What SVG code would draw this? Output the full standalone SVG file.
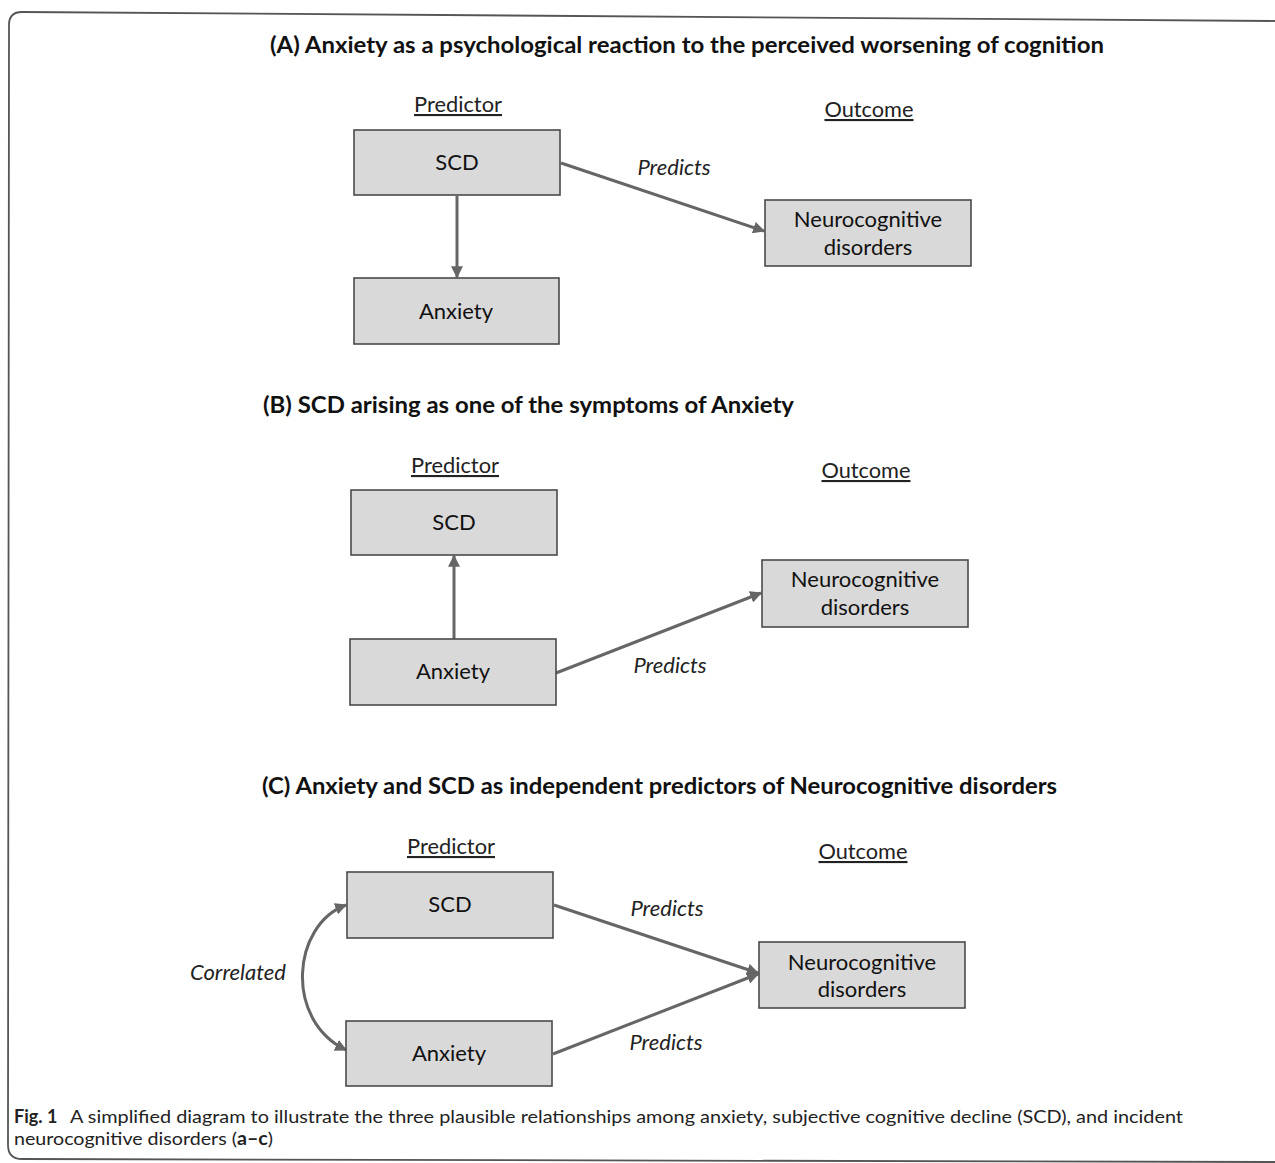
<svg xmlns="http://www.w3.org/2000/svg" width="1275" height="1163" viewBox="0 0 1275 1163">
<style>
.title{font-family:Lato,"Open Sans","Liberation Sans",sans-serif;font-weight:bold;font-size:22px;fill:#111}
.hdr{font-family:Lato,"Open Sans","Liberation Sans",sans-serif;font-size:21px;fill:#222;text-decoration:underline;text-anchor:middle}
.lbl{font-family:Lato,"Open Sans","Liberation Sans",sans-serif;font-size:22px;fill:#111;text-anchor:middle}
.edge{font-family:Lato,"Open Sans","Liberation Sans",sans-serif;font-size:22px;font-style:italic;fill:#222;text-anchor:middle}
.cap{font-family:Lato,"Open Sans","Liberation Sans",sans-serif;font-size:18px;fill:#222}
.box{fill:#d9d9d9;stroke:#4a4a4a;stroke-width:1.6}
.arr{fill:none;stroke:#666;stroke-width:3}
</style>
<defs>
<marker id="ah" viewBox="0 0 10 10" refX="9" refY="5" markerWidth="4" markerHeight="4" orient="auto-start-reverse" markerUnits="strokeWidth">
<path d="M0,0 L10,5 L0,10 z" fill="#666"/>
</marker>
</defs>
<rect width="1275" height="1163" fill="#fff"/>
<path d="M1275,21 L22,12 Q9,12 9,25 L8,1145 Q8,1159 22,1159 L1275,1162" fill="none" stroke="#555" stroke-width="1.8"/>

<g id="titles">
<text class="title" x="270" y="53" textLength="834" lengthAdjust="spacingAndGlyphs">(A) Anxiety as a psychological reaction to the perceived worsening of cognition</text>
<text class="title" x="263" y="413" textLength="531" lengthAdjust="spacingAndGlyphs">(B) SCD arising as one of the symptoms of Anxiety</text>
<text class="title" x="262" y="794" textLength="795" lengthAdjust="spacingAndGlyphs">(C) Anxiety and SCD as independent predictors of Neurocognitive disorders</text>
</g>

<g id="headers">
<text class="hdr" x="458" y="112" textLength="88" lengthAdjust="spacingAndGlyphs">Predictor</text>
<text class="hdr" x="869" y="117" textLength="89" lengthAdjust="spacingAndGlyphs">Outcome</text>
<text class="hdr" x="455" y="473" textLength="88" lengthAdjust="spacingAndGlyphs">Predictor</text>
<text class="hdr" x="866" y="478" textLength="89" lengthAdjust="spacingAndGlyphs">Outcome</text>
<text class="hdr" x="451" y="854" textLength="88" lengthAdjust="spacingAndGlyphs">Predictor</text>
<text class="hdr" x="863" y="859" textLength="89" lengthAdjust="spacingAndGlyphs">Outcome</text>
</g>

<g id="connectors">
<line class="arr" x1="457" y1="196" x2="457" y2="277" marker-end="url(#ah)"/>
<line class="arr" x1="561" y1="163" x2="764" y2="231" marker-end="url(#ah)"/>
<line class="arr" x1="454" y1="639" x2="454" y2="556" marker-end="url(#ah)"/>
<line class="arr" x1="556" y1="673" x2="761" y2="593" marker-end="url(#ah)"/>
<line class="arr" x1="554" y1="905" x2="758" y2="973" marker-end="url(#ah)"/>
<line class="arr" x1="553" y1="1054" x2="758" y2="974" marker-end="url(#ah)"/>
<path class="arr" d="M346,905 C292,925 284,1020 346,1050" marker-start="url(#ah)" marker-end="url(#ah)"/>
<text class="edge" x="674" y="175">Predicts</text>
<text class="edge" x="670" y="673">Predicts</text>
<text class="edge" x="667" y="916">Predicts</text>
<text class="edge" x="666" y="1050">Predicts</text>
<text class="edge" x="238" y="980">Correlated</text>
</g>

<g id="A_SCD"><rect class="box" x="354" y="130" width="206" height="65"/><text class="lbl" x="457" y="170">SCD</text></g>
<g id="A_Anxiety"><rect class="box" x="354" y="278" width="205" height="66"/><text class="lbl" x="456" y="319">Anxiety</text></g>
<g id="A_NCD"><rect class="box" x="765" y="200" width="206" height="66"/><text class="lbl" x="868" y="227">Neurocognitive</text><text class="lbl" x="868" y="255">disorders</text></g>

<g id="B_SCD"><rect class="box" x="351" y="490" width="206" height="65"/><text class="lbl" x="454" y="530">SCD</text></g>
<g id="B_Anxiety"><rect class="box" x="350" y="639" width="206" height="66"/><text class="lbl" x="453" y="679">Anxiety</text></g>
<g id="B_NCD"><rect class="box" x="762" y="560" width="206" height="67"/><text class="lbl" x="865" y="587">Neurocognitive</text><text class="lbl" x="865" y="615">disorders</text></g>

<g id="C_SCD"><rect class="box" x="347" y="872" width="206" height="66"/><text class="lbl" x="450" y="912">SCD</text></g>
<g id="C_Anxiety"><rect class="box" x="346" y="1021" width="206" height="65"/><text class="lbl" x="449" y="1061">Anxiety</text></g>
<g id="C_NCD"><rect class="box" x="759" y="942" width="206" height="66"/><text class="lbl" x="862" y="970">Neurocognitive</text><text class="lbl" x="862" y="997">disorders</text></g>

<g id="caption">
<text class="cap" x="14" y="1123" font-weight="bold">Fig. 1</text>
<text class="cap" x="70" y="1123" textLength="1113" lengthAdjust="spacingAndGlyphs">A simplified diagram to illustrate the three plausible relationships among anxiety, subjective cognitive decline (SCD), and incident</text>
<text class="cap" x="14" y="1145" textLength="259" lengthAdjust="spacingAndGlyphs">neurocognitive disorders (<tspan font-weight="bold">a–c</tspan>)</text>
</g>
</svg>
